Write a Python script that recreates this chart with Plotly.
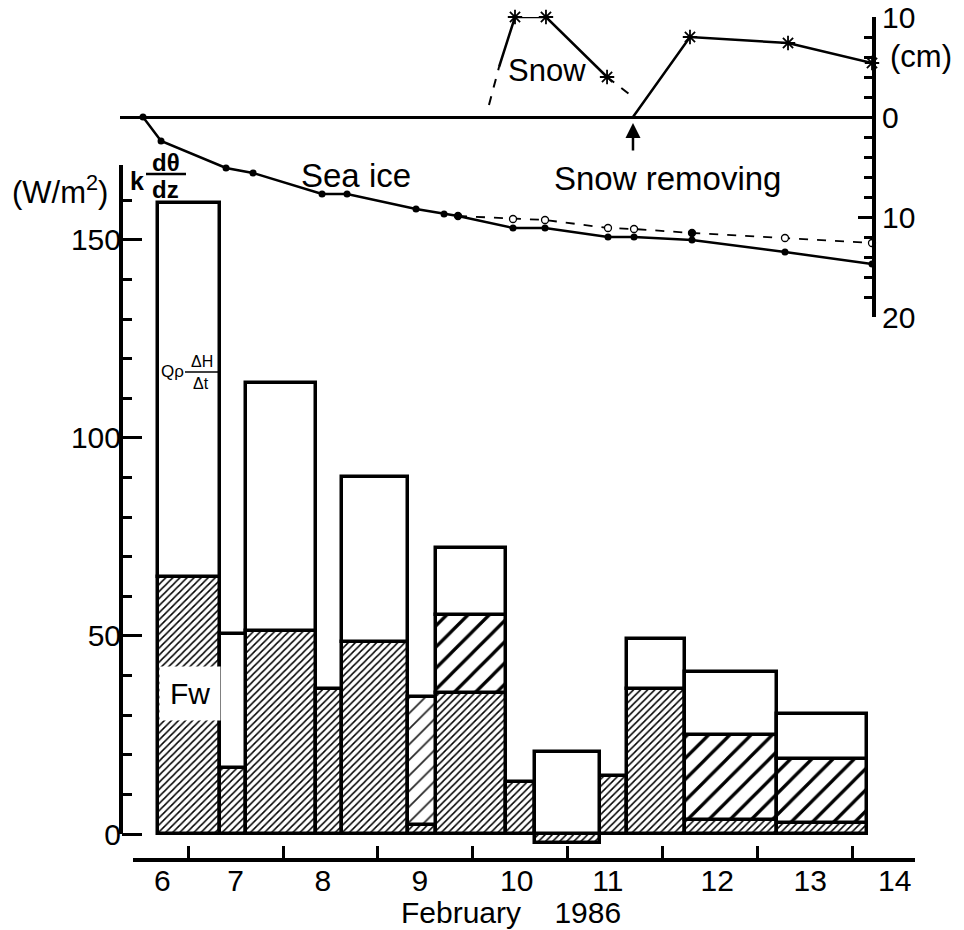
import plotly.graph_objects as go

W, H = 964, 930
FONT = "Liberation Sans, Arial, Helvetica, sans-serif"

# ---------------- data ----------------
# x unit: day of February 1986 (label n centred on day n)
bar_edges = [6.184, 6.837, 7.111, 7.847, 8.121, 8.816, 9.111, 9.847,
             10.153, 10.837, 11.121, 11.732, 12.700, 13.647]
# W/m2 components of each bar
fw_flux     = [64.8, 16.6, 51.2, 36.6, 48.4, 2.3, 35.5, 13.1, -2.3, 14.6, 36.6, 3.5, 2.8]
coarse_flux = [None, None, None, None, None, None, 19.7, None, None, None, None, 21.6, 16.2]
dashed_flux = [None, None, None, None, None, 32.2, None, None, None, None, None, None, None]
q_heat_flux = [94.5, 33.8, 62.7, None, 41.8, None, 16.9, None, 20.7, None, 12.6, 15.7, 11.3]

# sea ice thickness (cm)
ice_days  = [6.026, 6.216, 6.900, 7.184, 7.911, 8.174, 8.900, 9.195, 9.342,
             9.921, 10.258, 10.921, 11.195, 11.805, 12.784, 13.700]
ice_thick = [0.0, 2.4, 5.1, 5.6, 7.7, 7.7, 9.2, 9.7, 9.9,
             11.1, 11.1, 12.0, 12.0, 12.3, 13.5, 14.7]
ice2_days  = [9.342, 9.921, 10.258, 10.921, 11.195, 11.805, 12.784, 13.700]
ice2_thick = [9.9, 10.2, 10.3, 11.1, 11.2, 11.6, 12.1, 12.6]
ice2_open  = [False, True, True, True, True, False, True, True]

# snow depth (cm)
snow_lead_days = [9.668, 9.774]
snow_lead_cm   = [1.2, 5.0]
snow_a_days = [9.774, 9.942, 10.268, 10.911]
snow_a_cm   = [5.0, 10.0, 10.0, 4.0]
snow_tail_days = [10.911, 11.184]
snow_tail_cm   = [4.0, 2.0]
snow_b_days = [11.184, 11.784, 12.816, 13.700]
snow_b_cm   = [0.0, 8.0, 7.4, 5.4]
snow_star_days = [9.942, 10.268, 10.911, 11.784, 12.816, 13.700]
snow_star_cm   = [10.0, 10.0, 4.0, 8.0, 7.4, 5.4]
snow_removal_day = 11.184

# axis ticks
day_label_pos  = [6.23, 7.0, 7.92, 8.94, 9.96, 10.92, 12.07, 13.05, 13.94]
day_label_text = ["6", "7", "8", "9", "10", "11", "12", "13", "14"]
flux_ticks = [0, 50, 100, 150]
cm_ticks = [10, 0, -10, -20]
cm_tick_text = ["10", "0", "10", "20"]

# ---------------- helpers ----------------
def px(x):
    return x / W

def py(y):
    return 1 - y / H

centers = [(a + b) / 2 for a, b in zip(bar_edges[:-1], bar_edges[1:])]
widths = [b - a for a, b in zip(bar_edges[:-1], bar_edges[1:])]

BLK = "black"
outline = dict(color=BLK, width=3.5)

fig = go.Figure()

def add_bar(vals, pattern):
    m = dict(color="white", line=outline)
    if pattern is not None:
        m["pattern"] = pattern
    fig.add_trace(go.Bar(x=centers, y=vals, width=widths, marker=m,
                         xaxis="x", yaxis="y", showlegend=False, hoverinfo="skip"))

add_bar(fw_flux, dict(shape="/", size=5, solidity=0.3, fgcolor=BLK, bgcolor="white",
                      fgopacity=1, fillmode="replace"))
add_bar(coarse_flux, dict(shape="/", size=15, solidity=0.22, fgcolor=BLK, bgcolor="white",
                          fgopacity=1, fillmode="replace"))
add_bar(dashed_flux, dict(shape="/", size=11, solidity=0.16, fgcolor=BLK, bgcolor="white",
                          fgopacity=0.85, fillmode="replace"))
add_bar(q_heat_flux, None)

# ---- ice / snow panel ----
def line(xs, ys, dash="solid", width=2.5):
    fig.add_trace(go.Scatter(x=xs, y=ys, mode="lines", line=dict(color=BLK, width=width, dash=dash),
                             xaxis="x2", yaxis="y2", showlegend=False, hoverinfo="skip",
                             cliponaxis=False))

line(ice_days, [-v for v in ice_thick], width=2.5)
line(ice2_days, [-v for v in ice2_thick], dash="dash", width=1.8)
fig.add_trace(go.Scatter(x=ice_days, y=[-v for v in ice_thick], mode="markers",
                         marker=dict(color=BLK, size=7), xaxis="x2", yaxis="y2",
                         showlegend=False, hoverinfo="skip", cliponaxis=False))
fig.add_trace(go.Scatter(x=ice2_days, y=[-v for v in ice2_thick], mode="markers",
                         marker=dict(color=["white" if o else BLK for o in ice2_open], size=7,
                                     line=dict(color=BLK, width=1.3)),
                         xaxis="x2", yaxis="y2", showlegend=False, hoverinfo="skip",
                         cliponaxis=False))

line(snow_lead_days, snow_lead_cm, dash="dash", width=2)
line(snow_a_days, snow_a_cm, width=2.5)
line(snow_tail_days, snow_tail_cm, dash="dash", width=2)
line(snow_b_days, snow_b_cm, width=2.5)
fig.add_trace(go.Scatter(x=snow_star_days, y=snow_star_cm, mode="markers",
                         marker=dict(symbol="asterisk", size=12, color=BLK,
                                     line=dict(color=BLK, width=1.8)),
                         xaxis="x2", yaxis="y2", showlegend=False, hoverinfo="skip",
                         cliponaxis=False))

# ---------------- layout ----------------
tickfont = dict(family=FONT, size=30, color=BLK)

fig.update_layout(
    width=W, height=H,
    margin=dict(l=0, r=0, t=0, b=0, pad=0),
    paper_bgcolor="white", plot_bgcolor="rgba(0,0,0,0)",
    barmode="relative", bargap=0,
    font=dict(family=FONT, color=BLK),
    xaxis=dict(domain=[px(133), px(915)], range=[5.921, 14.153], automargin=False,
               anchor="free", position=py(860),
               showline=True, linecolor=BLK, linewidth=4, showgrid=False, zeroline=False,
               tickmode="array", tickvals=day_label_pos, ticktext=day_label_text,
               ticks="", tickfont=tickfont,
               minor=dict(ticks="inside", tick0=6.5, dtick=1, ticklen=12,
                          tickwidth=3, tickcolor=BLK, showgrid=False)),
    yaxis=dict(domain=[py(850), py(165)], range=[-4.04, 168.9], automargin=False,
               anchor="free", position=px(121),
               showline=False, showgrid=False, zeroline=False,
               tickmode="array", tickvals=flux_ticks, ticks="inside",
               ticklen=20, tickwidth=3, tickcolor=BLK, tickfont=tickfont,
               minor=dict(ticks="inside", tick0=0, dtick=10, ticklen=10,
                          tickwidth=3, tickcolor=BLK, showgrid=False)),
    xaxis2=dict(domain=[px(120), px(872)], range=[5.784, 13.7], automargin=False,
                anchor="y2", visible=False, showgrid=False),
    yaxis2=dict(domain=[py(317), py(17)], range=[-20, 10], automargin=False,
                anchor="x2", side="right",
                showline=True, linecolor=BLK, linewidth=4, showgrid=False,
                zeroline=True, zerolinecolor=BLK, zerolinewidth=3,
                tickmode="array", tickvals=cm_ticks, ticktext=cm_tick_text,
                ticks="inside", ticklen=14, tickwidth=3, tickcolor=BLK, tickfont=tickfont,
                minor=dict(ticks="inside", tick0=0, dtick=2, ticklen=8,
                           tickwidth=3, tickcolor=BLK, showgrid=False)),
)
try:
    fig.update_xaxes(ticklabelstandoff=-7, selector=dict(anchor="free"))
except Exception:
    pass

# left axis line (from 0 to top)
shapes = [
    dict(type="line", xref="paper", yref="y", x0=px(121), x1=px(121), y0=0, y1=168.9,
         line=dict(color=BLK, width=4)),
    # fraction bars
    dict(type="line", xref="paper", yref="paper", x0=px(146), x1=px(186), y0=py(174), y1=py(174),
         line=dict(color=BLK, width=2.5)),
    dict(type="line", xref="paper", yref="paper", x0=px(185), x1=px(218), y0=py(372), y1=py(372),
         line=dict(color=BLK, width=1.5)),
]
fig.update_layout(shapes=shapes)

def ann(text, x, y, size=32, bold=False, **kw):
    d = dict(text=("<b>%s</b>" % text) if bold else text, x=px(x), y=py(y),
             xref="paper", yref="paper", showarrow=False,
             font=dict(family=FONT, size=size, color=BLK),
             xanchor="center", yanchor="middle")
    d.update(kw)
    return d

annotations = [
    ann("(W/m<sup>2</sup>)", 60, 190, size=31),
    ann("k", 137, 181, size=25, bold=True),
    ann("dθ", 166, 162, size=24, bold=True),
    ann("dz", 165, 189, size=24, bold=True),
    ann("Qρ", 172, 371, size=17),
    ann("ΔH", 202, 362, size=16),
    ann("Δt", 201, 383, size=16),
    ann("Fw", 190, 693, size=30, bgcolor="white", borderpad=10),
    ann("Sea ice", 356, 175, size=33),
    ann("Snow", 547, 70, size=31),
    ann("Snow removing", 667, 178, size=33),
    ann("(cm)", 921, 57, size=31),
    ann("February\u00a0\u00a0\u00a0\u00a01986", 511, 912, size=30),
    dict(x=snow_removal_day, y=-0.6, xref="x2", yref="y2", text=" ", showarrow=True,
         ax=0, ay=36, arrowhead=2, arrowsize=1.2, arrowwidth=2.5, arrowcolor=BLK, standoff=0),
]
fig.update_layout(annotations=annotations)

fig.write_html("out.html")
